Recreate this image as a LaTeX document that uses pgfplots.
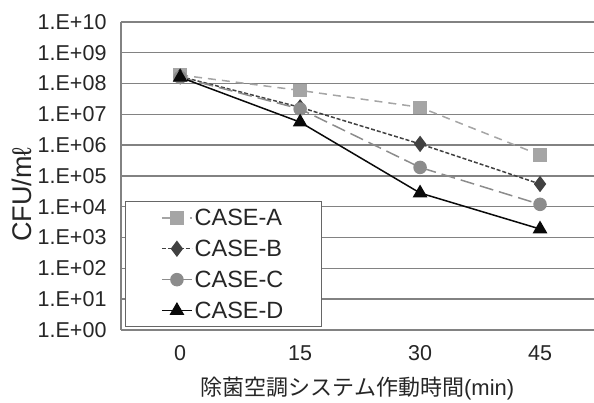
\documentclass[border=0pt]{standalone}
\usepackage{pgfplots}
\pgfplotsset{compat=1.18}
\usepackage{fontspec}
\setmainfont{Liberation Sans}
\newfontfamily\cjk{Noto Sans CJK JP}
\definecolor{gridgray}{RGB}{130,130,130}
\definecolor{cA}{RGB}{165,165,165}
\definecolor{cB}{RGB}{65,65,65}
\definecolor{cC}{RGB}{140,140,140}
\definecolor{cD}{RGB}{10,10,10}
\begin{document}
\begin{tikzpicture}
\begin{axis}[
  scale only axis, width=473pt, height=308pt,
  xmin=-7.4, xmax=51.75,
  ymode=log, log basis y=10, ymin=1, ymax=1e10,
  xtick={0,15,30,45}, xticklabels={0,15,30,45},
  ytick={1,10,100,1000,1e4,1e5,1e6,1e7,1e8,1e9,1e10},
  yticklabels={1.E+00,1.E+01,1.E+02,1.E+03,1.E+04,1.E+05,1.E+06,1.E+07,1.E+08,1.E+09,1.E+10},
  ymajorgrids, grid style={line width=1.4pt, draw=gridgray},
  axis x line*=bottom, axis y line*=left,
  axis line style={-, draw=gridgray, line width=1.4pt},
  major tick length=0pt, minor tick num=0,
  tick label style={font=\fontsize{21.5}{25}\selectfont, text=black!85},
  yticklabel style={xshift=-11pt},
  xticklabel style={yshift=-12pt},
  xlabel={{\cjk 除菌空調システム作動時間}(min)},
  xlabel style={font=\fontsize{22}{26}\selectfont, text=black!85, at={(axis description cs:0.5,-0.19)}, anchor=center},
  ylabel={CFU/mℓ},
  ylabel style={font=\fontsize{27}{30}\selectfont, text=black!85, at={(axis description cs:-0.21,0.44)}, anchor=center, rotate=0},
  legend style={at={(axis description cs:0.008,0.01)}, anchor=south west, draw=black!60, line width=0.8pt, fill=white, inner xsep=36pt, inner ysep=5pt, row sep=9pt, font=\fontsize{23.5}{27}\selectfont, text=black!85},
  legend cell align=left,
  legend image code/.code={\draw[mark repeat=2,mark phase=2] plot coordinates {(0pt,0pt) (15pt,0pt) (30pt,0pt)};},
]
\addplot[cA, line width=1.5pt, dash pattern=on 8pt off 6pt, mark=square*, mark size=6pt, mark options={solid, fill=cA, draw=cA}]
  coordinates {(0,1.9e8) (15,6.0e7) (30,1.7e7) (45,4.8e5)};
\addlegendentry{CASE-A}
\addplot[cB, line width=1.5pt, dash pattern=on 4pt off 2pt, mark=diamond*, mark size=7pt, mark options={solid, fill=cB, draw=cB}]
  coordinates {(0,1.7e8) (15,1.7e7) (30,1.1e6) (45,5.5e4)};
\addlegendentry{CASE-B}
\addplot[cC, line width=1.5pt, dash pattern=on 14pt off 6pt, mark=*, mark size=6pt, mark options={solid, fill=cC, draw=cC}]
  coordinates {(0,1.6e8) (15,1.5e7) (30,1.9e5) (45,1.2e4)};
\addlegendentry{CASE-C}
\addplot[cD, line width=1.5pt, solid, mark=triangle*, mark size=7pt, mark options={solid, fill=cD, draw=cD}]
  coordinates {(0,1.6e8) (15,5.6e6) (30,2.8e4) (45,1.9e3)};
\addlegendentry{CASE-D}
\end{axis}
\pgfresetboundingbox
\path ([shift={(-121pt,-73pt)}]current axis.south west) rectangle ([yshift=22pt]current axis.north east);
\end{tikzpicture}
\end{document}
